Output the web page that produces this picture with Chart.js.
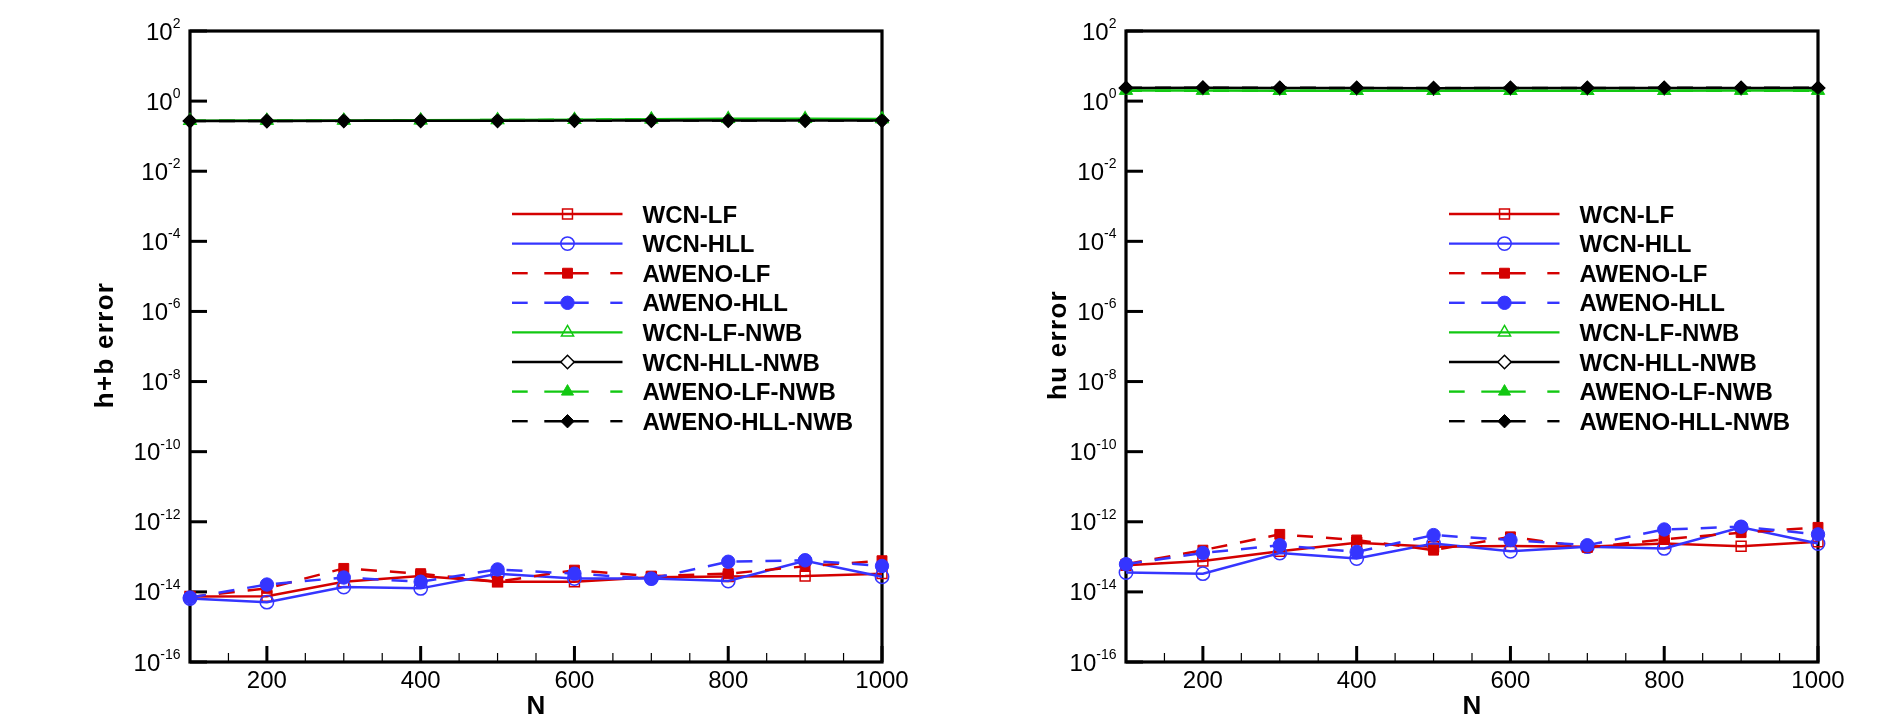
<!DOCTYPE html>
<html>
<head>
<meta charset="utf-8">
<script src="https://cdn.jsdelivr.net/npm/chart.js@4.4.0/dist/chart.umd.min.js"></script>
<style>
  html, body { margin: 0; padding: 0; background: #fff; }
  .panel { position: absolute; top: 0; width: 944px; height: 718px; }
  #leftPanel { left: 0; }
  #rightPanel { left: 944px; }
</style>
</head>
<body>
<div class="panel" id="leftPanel"><canvas id="leftChart" width="944" height="718"></canvas></div>
<div class="panel" id="rightPanel"><canvas id="rightChart" width="944" height="718"></canvas></div>
<script>
// Data
const nValues = [100, 200, 300, 400, 500, 600, 700, 800, 900, 1000];
const seriesLabels = ['WCN-LF', 'WCN-HLL', 'AWENO-LF', 'AWENO-HLL',
                      'WCN-LF-NWB', 'WCN-HLL-NWB', 'AWENO-LF-NWB', 'AWENO-HLL-NWB'];

// left panel: h+b error
const hbWcnLf     = [7.4e-15, 7.5e-15, 1.95e-14, 2.82e-14, 1.95e-14, 1.95e-14, 2.63e-14, 2.75e-14, 2.82e-14, 3.31e-14];
const hbWcnHll    = [6.5e-15, 5.1e-15, 1.38e-14, 1.26e-14, 3.31e-14, 2.4e-14, 2.4e-14, 2.04e-14, 7.76e-14, 2.69e-14];
const hbAwenoLf   = [7.2e-15, 1.26e-14, 4.68e-14, 3.31e-14, 1.95e-14, 4.17e-14, 2.82e-14, 3.31e-14, 5.37e-14, 7.76e-14];
const hbAwenoHll  = [6.9e-15, 1.62e-14, 2.57e-14, 1.95e-14, 4.37e-14, 3.31e-14, 2.4e-14, 7.24e-14, 7.94e-14, 5.5e-14];
const hbWcnLfNwb    = [0.276, 0.278, 0.281, 0.285, 0.29, 0.296, 0.305, 0.312, 0.312, 0.31];
const hbWcnHllNwb   = [0.272, 0.273, 0.274, 0.276, 0.277, 0.278, 0.279, 0.28, 0.28, 0.28];
const hbAwenoLfNwb  = [0.274, 0.276, 0.279, 0.283, 0.288, 0.293, 0.3, 0.306, 0.306, 0.305];
const hbAwenoHllNwb = [0.271, 0.272, 0.273, 0.275, 0.276, 0.277, 0.278, 0.279, 0.279, 0.279];

// right panel: hu error
const huWcnLf     = [5.75e-14, 7.59e-14, 1.45e-13, 2.51e-13, 1.95e-13, 2.04e-13, 1.95e-13, 2.4e-13, 2.0e-13, 2.69e-13];
const huWcnHll    = [3.55e-14, 3.31e-14, 1.29e-13, 8.91e-14, 2.4e-13, 1.45e-13, 1.95e-13, 1.74e-13, 6.92e-13, 2.4e-13];
const huAwenoLf   = [6.17e-14, 1.55e-13, 4.37e-13, 3.02e-13, 1.55e-13, 3.72e-13, 1.86e-13, 3.16e-13, 4.9e-13, 6.92e-13];
const huAwenoHll  = [6.17e-14, 1.29e-13, 2.14e-13, 1.38e-13, 4.17e-13, 3.02e-13, 2.14e-13, 6.03e-13, 7.24e-13, 4.37e-13];
const huWcnLfNwb    = [2.0, 2.0, 1.99, 1.98, 1.97, 1.98, 1.98, 1.99, 2.0, 2.0];
const huWcnHllNwb   = [2.38, 2.4, 2.38, 2.36, 2.33, 2.35, 2.35, 2.37, 2.38, 2.37];
const huAwenoLfNwb  = [1.99, 1.99, 1.98, 1.97, 1.96, 1.97, 1.97, 1.98, 1.99, 1.99];
const huAwenoHllNwb = [2.4, 2.42, 2.4, 2.37, 2.35, 2.37, 2.37, 2.39, 2.4, 2.39];

// Axes
const yTickExps = [2, 0, -2, -4, -6, -8, -10, -12, -14, -16];
const xMajorTicks = [200, 400, 600, 800, 1000];
const xMinorTicks = [150, 250, 300, 350, 450, 500, 550, 650, 700, 750, 850, 900, 950];

// Styles
const RED = '#d40000';
const BLUE = '#3535ff';
const GREEN = '#12c812';
const BLACK = '#000000';
const FONT = '"Liberation Sans", Arial, Helvetica, sans-serif';

const seriesStyles = [
    { color: RED,   dashed: false, point: 'rect',    filled: false, radius: 7 },
    { color: BLUE,  dashed: false, point: 'circle',  filled: false, radius: 6.7 },
    { color: RED,   dashed: true,  point: 'rect',    filled: true,  radius: 7 },
    { color: BLUE,  dashed: true,  point: 'circle',  filled: true,  radius: 6.7 },
    { color: GREEN, dashed: false, point: 'triangle', filled: false, radius: 7 },
    { color: BLACK, dashed: false, point: 'rectRot', filled: false, radius: 6.7 },
    { color: GREEN, dashed: true,  point: 'triangle', filled: true,  radius: 7 },
    { color: BLACK, dashed: true,  point: 'rectRot', filled: true,  radius: 6.7 }
];

function markerFill(st) {
    if (st.filled) return st.color;
    if (st.point === 'rectRot') return '#ffffff';
    return 'rgba(0,0,0,0)';
}

function drawMarker(ctx, st, x, y) {
    ctx.save();
    ctx.fillStyle = markerFill(st);
    ctx.strokeStyle = st.color;
    ctx.lineWidth = st.filled ? 1 : 1.5;
    ctx.setLineDash([]);
    Chart.helpers.drawPoint(ctx, { pointStyle: st.point, radius: st.radius, rotation: 0, borderWidth: ctx.lineWidth }, x, y);
    ctx.restore();
}

// Frame, inward ticks, labels and legend
const framePlugin = {
    id: 'frame',
    beforeDatasetsDraw(chart, args, opts) {
        const { ctx, chartArea: a } = chart;
        const x = chart.scales.x, y = chart.scales.y;
        ctx.save();
        ctx.strokeStyle = '#000';
        ctx.lineCap = 'butt';
        // y major ticks
        ctx.lineWidth = 3;
        yTickExps.forEach(e => {
            const py = y.getPixelForValue(Math.pow(10, e));
            ctx.beginPath();
            ctx.moveTo(a.left, py);
            ctx.lineTo(a.left + 17, py);
            ctx.stroke();
        });
        // x major ticks
        xMajorTicks.forEach(v => {
            const px = x.getPixelForValue(v);
            ctx.beginPath();
            ctx.moveTo(px, a.bottom);
            ctx.lineTo(px, a.bottom - 16);
            ctx.stroke();
        });
        // x minor ticks
        ctx.lineWidth = 1.2;
        xMinorTicks.forEach(v => {
            const px = x.getPixelForValue(v);
            ctx.beginPath();
            ctx.moveTo(px, a.bottom);
            ctx.lineTo(px, a.bottom - 9);
            ctx.stroke();
        });
        // box
        ctx.lineWidth = 3.2;
        ctx.strokeRect(a.left, a.top, a.right - a.left, a.bottom - a.top);
        ctx.restore();
    },
    afterDraw(chart, args, opts) {
        const { ctx, chartArea: a } = chart;
        const x = chart.scales.x, y = chart.scales.y;
        ctx.save();
        ctx.fillStyle = '#000';

        // y tick labels: 10 with superscript exponent
        const right = a.left - 9.5;
        yTickExps.forEach(e => {
            const py = y.getPixelForValue(Math.pow(10, e));
            const expText = String(e).replace('\u2212', '-');
            ctx.font = '14px ' + FONT;
            const expW = ctx.measureText(expText).width;
            ctx.textAlign = 'left';
            ctx.textBaseline = 'alphabetic';
            ctx.fillText(expText, right - expW, py - 3);
            ctx.font = '24px ' + FONT;
            ctx.textAlign = 'right';
            ctx.fillText('10', right - expW, py + 8.5);
        });

        // x tick labels
        ctx.font = '24px ' + FONT;
        ctx.textAlign = 'center';
        ctx.textBaseline = 'alphabetic';
        xMajorTicks.forEach(v => {
            ctx.fillText(String(v), x.getPixelForValue(v), a.bottom + 26);
        });

        // axis titles
        ctx.font = 'bold 26px ' + FONT;
        ctx.fillText('N', (a.left + a.right) / 2, a.bottom + 52);
        ctx.save();
        ctx.letterSpacing = '1.3px';
        ctx.translate(opts.yTitleX, 345);
        ctx.rotate(-Math.PI / 2);
        ctx.textAlign = 'center';
        ctx.fillText(opts.yTitle, 0, 0);
        ctx.restore();

        // legend
        const lx = opts.legendX;
        const len = 110.5;
        seriesLabels.forEach((label, i) => {
            const st = seriesStyles[i];
            const ly = 214 + i * 29.6;
            ctx.save();
            ctx.strokeStyle = st.color;
            ctx.lineWidth = 2.4;
            const segs = st.dashed ? [[0, 15.7], [32.3, 76.7], [98.3, len]] : [[0, len]];
            segs.forEach(s => {
                ctx.beginPath();
                ctx.moveTo(lx + s[0], ly);
                ctx.lineTo(lx + s[1], ly);
                ctx.stroke();
            });
            ctx.restore();
            drawMarker(ctx, st, lx + 55.5, ly);
            ctx.font = 'bold 24px ' + FONT;
            ctx.textAlign = 'left';
            ctx.fillStyle = '#000';
            ctx.fillText(label, lx + 130.5, ly + 8.5);
        });
        ctx.restore();
    }
};

function buildDatasets(seriesValues) {
    return seriesValues.map((vals, i) => {
        const st = seriesStyles[i];
        return {
            label: seriesLabels[i],
            data: nValues.map((n, k) => ({ x: n, y: vals[k] })),
            borderColor: st.color,
            backgroundColor: st.color,
            borderWidth: 2.5,
            borderDash: st.dashed ? [16, 13] : [],
            pointStyle: st.point,
            pointRadius: st.radius,
            pointBorderColor: st.color,
            pointBackgroundColor: markerFill(st),
            pointBorderWidth: st.filled ? 1 : 1.5,
            tension: 0,
            clip: false,
            order: seriesValues.length - 1 - i
        };
    });
}

function makeChart(canvasId, seriesValues, padding, opts) {
    return new Chart(document.getElementById(canvasId), {
        type: 'line',
        data: { datasets: buildDatasets(seriesValues) },
        options: {
            responsive: false,
            animation: false,
            devicePixelRatio: 1,
            layout: { padding: padding },
            events: [],
            plugins: {
                legend: { display: false },
                tooltip: { enabled: false },
                frame: opts
            },
            scales: {
                x: { type: 'linear', min: 100, max: 1000, display: false },
                y: { type: 'logarithmic', min: 1e-16, max: 1e2, display: false }
            }
        },
        plugins: [framePlugin]
    });
}

makeChart('leftChart',
    [hbWcnLf, hbWcnHll, hbAwenoLf, hbAwenoHll, hbWcnLfNwb, hbWcnHllNwb, hbAwenoLfNwb, hbAwenoHllNwb],
    { left: 190, right: 62, top: 31, bottom: 56 },
    { yTitle: 'h+b error', yTitleX: 113, legendX: 512 });

makeChart('rightChart',
    [huWcnLf, huWcnHll, huAwenoLf, huAwenoHll, huWcnLfNwb, huWcnHllNwb, huAwenoLfNwb, huAwenoHllNwb],
    { left: 182, right: 70, top: 31, bottom: 56 },
    { yTitle: 'hu error', yTitleX: 122, legendX: 505 });
</script>
</body>
</html>
